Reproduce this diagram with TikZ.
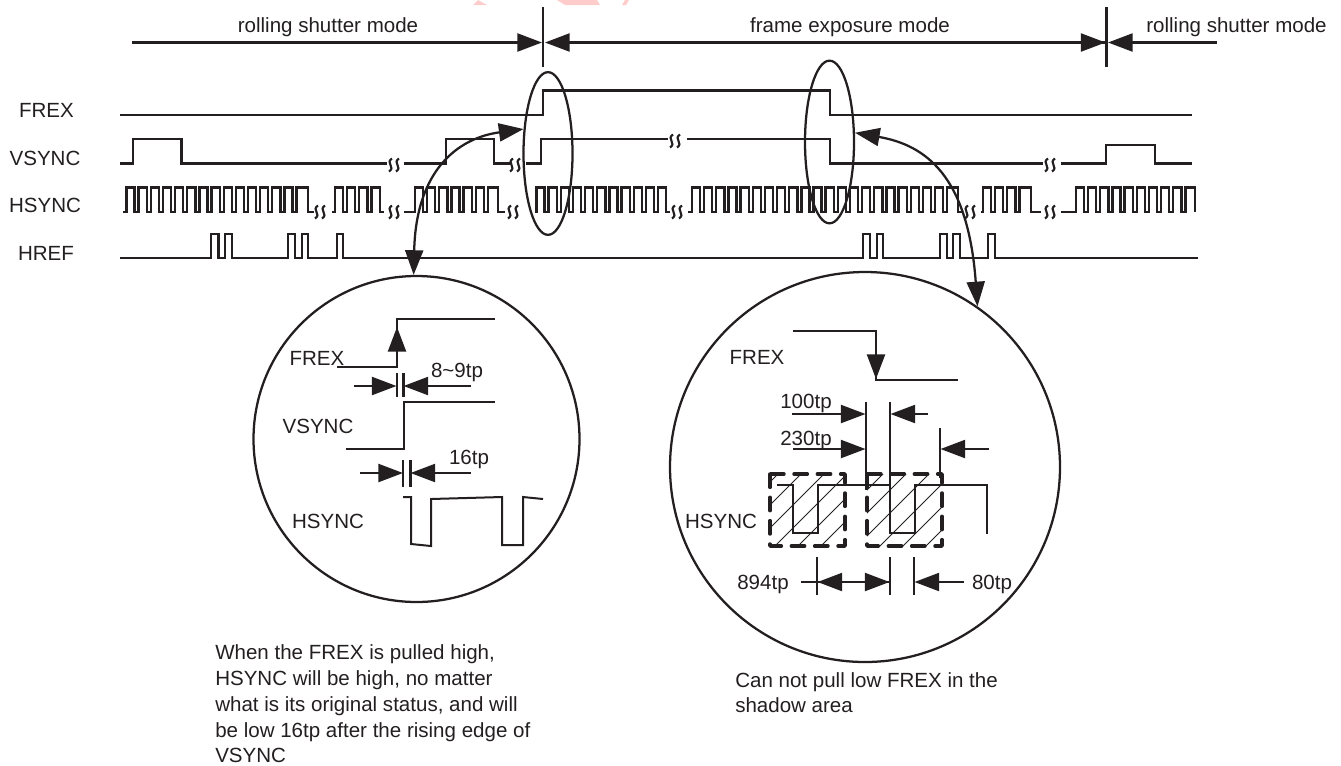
\documentclass[tikz,border=0pt]{standalone}
\usepackage{fontspec}
\setmainfont{Liberation Sans}
\usetikzlibrary{arrows.meta,shapes.geometric}
\definecolor{inkc}{HTML}{231F20}
\definecolor{markc}{HTML}{FFCCCC}
\tikzset{
  wave/.style={draw=inkc, line width=1.75pt, line join=miter},
  thinwave/.style={draw=inkc, line width=1.5pt},
  dimarrow/.style={draw=inkc, line width=1.75pt, -{Triangle[length=18.5pt,width=13.5pt]}},
  bothtips/.style={draw=inkc, line width=1.7pt, {Triangle[length=18.5pt,width=13.5pt]}-{Triangle[length=18.5pt,width=13.5pt]}},
  lbl/.style={inner sep=0pt, anchor=base, text=inkc, font=\fontsize{15.4}{18}\selectfont},
  para/.style={inner sep=0pt, anchor=base west, text=inkc, font=\fontsize{15.4}{18}\selectfont},
  lens/.style={ellipse, draw=inkc, line width=1.7pt, inner sep=0pt, minimum width=36.75pt, minimum height=122pt},
  zoomc/.style={circle, draw=inkc, line width=1.7pt, inner sep=0pt},
  shadowbox/.style={draw=inkc, line width=2.6pt, line cap=round, line join=round, dash pattern=on 10pt off 7.5pt},
  brkmark/.pic={
    \foreach \sx in {-3.5,3.5}
      \draw[inkc, line width=1.6pt] (\sx+1.5,-6.5) .. controls (\sx-5.5,-2) and (\sx+5.5,2) .. (\sx-1.5,6.5);
  }
}
\newcommand\hsyncrun[5]{
\draw[wave] (#1,212) -- (#2,212) foreach \k in {1,...,#3} {-- ({#2+12.15*(\k-1)},187.5) -- ({#2+12.15*\k-4},187.5) -- ({#2+12.15*\k-4},212) -- ({#2+12.15*\k},212)} -- ({#2+12.15*#3},187.5) -- (#4,187.5) -- (#4,212) -- (#5,212);
}
\newcommand\hrefpulse[2]{-- (#1,258) -- (#1,234) -- (#2,234) -- (#2,258)}
\begin{document}
\begin{tikzpicture}[x=.75pt,y=-.75pt]
\useasboundingbox (0,0) rectangle (1341,765);
\fill[markc] (473,5) -- (478,0) -- (487,5) -- cycle;
\fill[markc] (557,0) -- (597,0) -- (600,5) -- (565,5) -- cycle;
\fill[markc] (622,5) -- (625,0) -- (629,0) -- (626,5) -- cycle;
% mode spans
\node[lbl] (rollinga) at (328,32){rolling shutter mode};
\node[lbl] (frameexp) at (850,32){frame exposure mode};
\node[lbl] (rollingb) at (1236.5,32){rolling shutter mode};
\draw[wave] (543,7) -- (543,67);
\draw[wave] (1106.5,7) -- (1106.5,67);
\foreach \nm/\xa/\ya/\xb/\yb in {
  spa/132/42.5/542/42.5, spb/1105/42.5/545/42.5, spc/560/42.5/1105.5/42.5, spd/1217/42.5/1108/42.5,
  fra/354/386/396.5/386, frb/471/386/403.5/386,
  hsa/360/473/403/473, hsb/471/473/410.5/473,
  upa/397/366/397/327, dna/876/340/876/379,
  ona/792/414/865.5/414, onb/928/414/890.5/414,
  twa/793/449/865.5/449, twb/989/449/940.5/449,
  ofa/801/582/889.5/582, ofc/889/582/817.5/582, ofb/964/582/914.5/582}
{
  \coordinate (\nm s) at (\xa,\ya);
  \coordinate (\nm t) at (\xb,\yb);
  \draw[dimarrow] (\nm s) -- (\nm t);
}
% signals
\node[lbl] (frexl) at (46.5,117){FREX};
\node[lbl] (vsyncl) at (45,165){VSYNC};
\node[lbl] (hsyncl) at (45,212){HSYNC};
\node[lbl] (hrefl) at (46,260){HREF};
\draw[wave] (120,115) -- (543,115) -- (543,90.5) -- (830,90.5) -- (830,115) -- (1192,115);
\draw[wave] (120,163.5) -- (133,163.5) -- (133,139) -- (181.5,139) -- (181.5,163.5) -- (387,163.5);
\draw[wave] (404,163.5) -- (446,163.5) -- (446,139) -- (494,139) -- (494,163.5) -- (510,163.5);
\draw[wave] (526,163.5) -- (541,163.5) -- (541,139) -- (668,139);
\draw[wave] (687,139) -- (830,139) -- (830,163.5) -- (1043,163.5);
\draw[wave] (1061,163.5) -- (1106,163.5) -- (1106,145) -- (1155,145) -- (1155,163.5) -- (1192,163.5);
\hsyncrun{123}{126.5}{14}{308}{314}
\hsyncrun{331.7}{335}{3}{380}{384}
\hsyncrun{404}{415}{6}{498}{505}
\hsyncrun{535}{536.5}{10}{666}{670}
\hsyncrun{688}{692}{21}{958}{962}
\hsyncrun{981}{983}{3}{1031}{1041}
\hsyncrun{1061}{1076}{9}{1195}{1195}
\foreach \bx/\by in {394/165,515/165,675/141,1050/165,320/212,394/212,513/212,677/212,970/212,1050/212}
  \pic at (\bx,\by) {brkmark};
\draw[wave] (120,258) \hrefpulse{211}{218.5} \hrefpulse{225}{232} \hrefpulse{288}{295} \hrefpulse{302}{308} \hrefpulse{337}{343}
  \hrefpulse{863}{870} \hrefpulse{877}{883} \hrefpulse{940}{947} \hrefpulse{953}{960} \hrefpulse{988}{995} -- (1198,258);
% lenses and circles
\node[lens] (lensrise) at (548,153.5){};
\node[lens] (lensfall) at (829.5,142){};
\node[zoomc, minimum size=244.5pt] (zoomrise) at (416.5,439){};
\node[zoomc, minimum size=292.5pt] (zoomfall) at (865,467){};
\draw[bothtips] (lensrise.135) .. controls (458,138) and (416,170) .. (zoomrise.91.6);
\draw[bothtips] (lensfall.20) .. controls (925,145) and (968,175) .. (zoomfall.55);
% left circle
\node[lbl] (frexa) at (317,365){FREX};
\node[lbl] (tpa) at (457,377){8\char`~9tp};
\node[lbl] (vsynca) at (318,433){VSYNC};
\node[lbl] (tpb) at (469,464){16tp};
\node[lbl] (hsynca) at (328,528){HSYNC};
\draw[wave] (337,367) -- (397,367) -- (397,319) -- (495,319);
\draw[wave] (346,449) -- (404,449) -- (404,402) -- (495,402);
\draw[thinwave] (403,497) -- (411,497) -- (411,544) -- (431,546) -- (431,499) -- (502,497) -- (502,545) -- (523,545) -- (523,497) -- (543,499);
\draw[wave] (397,373) -- (397,397);
\draw[wave] (403.5,373) -- (403.5,397);
\draw[wave] (403,460) -- (403,487);
\draw[wave] (410.5,460) -- (410.5,487);
% right circle
\node[lbl] (frexb) at (757,364){FREX};
\node[lbl] (tpc) at (806,408){100tp};
\node[lbl] (tpd) at (806,445){230tp};
\node[lbl] (hsyncb) at (721,528){HSYNC};
\node[lbl] (tpe) at (763,589){894tp};
\node[lbl] (tpf) at (992,589){80tp};
\draw[wave] (793,331) -- (876,331) -- (876,380) -- (958,380);
\foreach \bx/\st in {770/706,867/811}
{
  \begin{scope}
  \clip (\bx,474) rectangle (\bx+75,546);
  \foreach \k in {0,...,6}
    \draw[inkc, line width=.7pt] (\st+23*\k,546) -- (\st+23*\k+80,466);
  \end{scope}
  \draw[shadowbox] (\bx,474) rectangle (\bx+75,546);
}
\draw[thinwave] (777,485) -- (793,485) -- (793,533) -- (818,533) -- (818,485) -- (890,485) -- (890,533) -- (915,533) -- (915,485) -- (987,485) -- (987,534);
\draw[thinwave] (866,402) -- (866,490);
\draw[thinwave] (890,402) -- (890,485);
\draw[thinwave] (940,428) -- (940,478);
\draw[wave] (817,557) -- (817,595);
\draw[wave] (890,557) -- (890,595);
\draw[wave] (914,557) -- (914,595);
% notes
\node[para] (notea) at (215,659){When the FREX is pulled high,};
\node[para] (noteb) at (215,685){HSYNC will be high, no matter};
\node[para] (notec) at (215,711){what is its original status, and will};
\node[para] (noted) at (215,737){be low 16tp after the rising edge of};
\node[para] (notee) at (215,762){VSYNC};
\node[para] (notef) at (735,687){Can not pull low FREX in the};
\node[para] (noteg) at (735,712){shadow area};
\end{tikzpicture}
\end{document}
